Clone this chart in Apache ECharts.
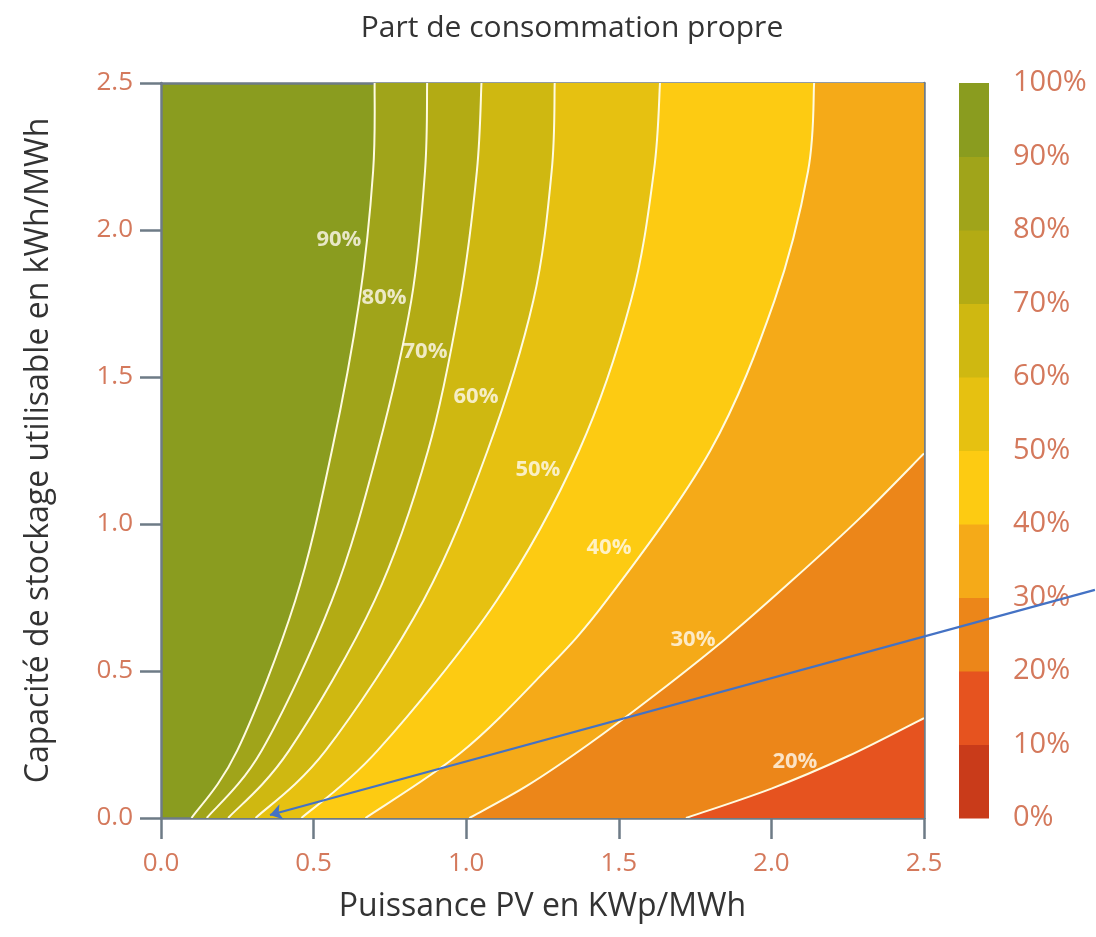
<!DOCTYPE html>
<html>
<head>
<meta charset="utf-8">
<script src="https://cdn.jsdelivr.net/npm/echarts@6/dist/echarts.min.js"></script>
<style>
html, body { margin: 0; background: #fff; }
#chart { width: 1096px; height: 937px; }
</style>
</head>
<body>
<div id="chart"></div>
<script>
// tick labels of both axes
var axisTicks = ['0.0', '0.5', '1.0', '1.5', '2.0', '2.5'];

// contour lines: [PV, stockage]
var levels = ['90%', '80%', '70%', '60%', '50%', '40%', '30%', '20%'];
var line90 = [[0.10, 0], [0.25, 0.23], [0.44, 0.74], [0.56, 1.25], [0.65, 1.76], [0.695, 2.2], [0.70, 2.5]];
var line80 = [[0.15, 0], [0.33, 0.23], [0.56, 0.74], [0.71, 1.25], [0.82, 1.76], [0.865, 2.2], [0.872, 2.5]];
var line70 = [[0.22, 0], [0.42, 0.23], [0.70, 0.74], [0.875, 1.25], [0.98, 1.76], [1.035, 2.2], [1.05, 2.5]];
var line60 = [[0.31, 0], [0.54, 0.23], [0.86, 0.74], [1.07, 1.25], [1.22, 1.76], [1.28, 2.2], [1.29, 2.5]];
var line50 = [[0.46, 0], [0.71, 0.23], [1.10, 0.74], [1.37, 1.25], [1.54, 1.76], [1.615, 2.2], [1.635, 2.5]];
var line40 = [[0.67, 0], [0.98, 0.22], [1.24, 0.48], [1.46, 0.74], [1.80, 1.25], [2.01, 1.76], [2.12, 2.2], [2.14, 2.5]];
var line30 = [[1.01, 0], [1.20, 0.11], [1.40, 0.25], [1.62, 0.42], [1.85, 0.61], [2.07, 0.81], [2.29, 1.02], [2.5, 1.24]];
var line20 = [[1.72, 0], [2.0, 0.1], [2.25, 0.21], [2.5, 0.34]];
var contours = [line90, line80, line70, line60, line50, line40, line30, line20];

// where the level labels sit
var labelX = [0.583, 0.731, 0.865, 1.032, 1.235, 1.468, 1.743, 2.077];
var labelY = [1.966, 1.769, 1.585, 1.432, 1.184, 0.918, 0.605, 0.190];

// colour bar steps (%)
var barSteps = [0, 10, 20, 30, 40, 50, 60, 70, 80, 90, 100];

// blue arrow annotation
var arrowFrom = [3.06, 0.776];
var arrowTo = [0.357, 0.01];

var bandColors = ['#c93b1a', '#e6531f', '#ec8619', '#f5aa18', '#fdcb12',
                  '#e6c111', '#cfb811', '#b3ab14', '#a0a41a', '#8a9c1f'];
var tickColor = '#d4795c';
var axisColor = '#6e7b86';
var font = 'Open Sans';

// smooth path through the points (catmull-rom -> bezier)
function curvePath(pts) {
    var d = 'M' + pts[0][0] + ' ' + pts[0][1];
    for (var i = 0; i < pts.length - 1; i++) {
        var p0 = pts[i - 1] || pts[i], p1 = pts[i], p2 = pts[i + 1], p3 = pts[i + 2] || pts[i + 1];
        var c1x = p1[0] + (p2[0] - p0[0]) / 6, c1y = p1[1] + (p2[1] - p0[1]) / 6;
        var c2x = p2[0] - (p3[0] - p1[0]) / 6, c2y = p2[1] - (p3[1] - p1[1]) / 6;
        d += ' C' + c1x + ' ' + c1y + ' ' + c2x + ' ' + c2y + ' ' + p2[0] + ' ' + p2[1];
    }
    return d;
}

var idx = contours.map(function (c, i) { return [i]; });

var myChart = echarts.init(document.getElementById('chart'));
var option = {
    animation: false,
    title: {
        text: 'Part de consommation propre',
        left: 567,
        top: 8,
        textAlign: 'center',
        textStyle: { fontFamily: font, fontSize: 30, fontWeight: 'normal', color: '#333' }
    },
    grid: [{
        left: 161, top: 83, width: 763, height: 735,
        show: true, backgroundColor: bandColors[9], borderWidth: 0
    }, {
        left: 959, top: 83, width: 30, height: 735
    }],
    xAxis: [{
        gridIndex: 0,
        type: 'value', min: 0, max: 2.5, interval: 0.5,
        name: 'Puissance PV en KWp/MWh',
        nameLocation: 'middle', nameGap: 73,
        nameTextStyle: { fontFamily: font, fontSize: 32, color: '#333' },
        axisLine: { onZero: false, lineStyle: { color: axisColor, width: 2.5 } },
        axisTick: { length: 21, lineStyle: { color: axisColor, width: 2.5 } },
        axisLabel: {
            margin: 33, color: tickColor, fontFamily: font, fontSize: 26,
            formatter: function (v) { return axisTicks[Math.round(v / 0.5)]; }
        },
        splitLine: { show: false }
    }, {
        gridIndex: 0, position: 'top',
        type: 'value', min: 0, max: 2.5,
        axisLine: { onZero: false, lineStyle: { color: axisColor, width: 2.5 } },
        axisTick: { show: false }, axisLabel: { show: false }, splitLine: { show: false }
    }, {
        gridIndex: 1, type: 'category', data: [''], show: false
    }],
    yAxis: [{
        gridIndex: 0,
        type: 'value', min: 0, max: 2.5, interval: 0.5,
        name: 'Capacité de stockage utilisable en kWh/MWh',
        nameLocation: 'middle', nameGap: 106,
        nameTextStyle: { fontFamily: font, fontSize: 32, color: '#333' },
        axisLine: { onZero: false, lineStyle: { color: axisColor, width: 2.5 } },
        axisTick: { length: 21, lineStyle: { color: axisColor, width: 2.5 } },
        axisLabel: {
            margin: 28, color: tickColor, fontFamily: font, fontSize: 26,
            formatter: function (v) { return axisTicks[Math.round(v / 0.5)]; }
        },
        splitLine: { show: false }
    }, {
        gridIndex: 0, position: 'right',
        type: 'value', min: 0, max: 2.5,
        axisLine: { onZero: false, lineStyle: { color: axisColor, width: 2.5 } },
        axisTick: { show: false }, axisLabel: { show: false }, splitLine: { show: false }
    }, {
        gridIndex: 1, type: 'value', min: 0, max: 100, interval: 10, position: 'right',
        axisLine: { show: false }, axisTick: { show: false }, splitLine: { show: false },
        axisLabel: { margin: 24, color: tickColor, fontFamily: font, fontSize: 29, formatter: '{value}%' }
    }],
    series: [{
        // filled bands: each contour fills everything to its right
        type: 'custom',
        xAxisIndex: 0, yAxisIndex: 0,
        clip: true, z: 1,
        data: idx,
        renderItem: function (params, api) {
            var k = api.value(0);
            var line = contours[k];
            var pts = line.map(function (p) { return api.coord(p); });
            var d = curvePath(pts);
            if (line[line.length - 1][1] >= 2.5) {
                d += ' L' + api.coord([2.5, 2.5]).join(' ');
            }
            d += ' L' + api.coord([2.5, 0]).join(' ') + ' Z';
            return { type: 'path', shape: { pathData: d }, style: { fill: bandColors[8 - k] } };
        }
    }, {
        // white contour lines
        type: 'custom',
        xAxisIndex: 0, yAxisIndex: 0,
        clip: true, z: 2,
        data: idx,
        renderItem: function (params, api) {
            var pts = contours[api.value(0)].map(function (p) { return api.coord(p); });
            return {
                type: 'path', shape: { pathData: curvePath(pts) },
                style: { fill: null, stroke: '#fffbe0', lineWidth: 2 }
            };
        }
    }, {
        // level labels
        type: 'scatter',
        xAxisIndex: 0, yAxisIndex: 0,
        z: 3, symbolSize: 0, silent: true,
        data: levels.map(function (t, i) { return { name: t, value: [labelX[i], labelY[i]] }; }),
        label: {
            show: true, position: 'inside', formatter: '{b}',
            color: '#fffaf0', fontFamily: font, fontWeight: 'bold', fontSize: 22
        }
    }, {
        // colour bar
        type: 'custom',
        xAxisIndex: 2, yAxisIndex: 2,
        z: 1,
        data: barSteps.slice(0, -1).map(function (s, i) { return [0, s, barSteps[i + 1], i]; }),
        renderItem: function (params, api) {
            var lo = api.coord([0, api.value(1)]);
            var hi = api.coord([0, api.value(2)]);
            var w = api.size([1, 0])[0];
            return {
                type: 'rect',
                shape: { x: lo[0] - w / 2, y: hi[1], width: w, height: lo[1] - hi[1] + 0.5 },
                style: { fill: bandColors[api.value(3)] }
            };
        }
    }, {
        // blue arrow
        type: 'lines',
        coordinateSystem: 'cartesian2d',
        xAxisIndex: 0, yAxisIndex: 0,
        clip: false, z: 10,
        symbol: ['none', 'arrow'], symbolSize: 12,
        lineStyle: { color: '#4472c4', width: 2.2, opacity: 1 },
        data: [{ coords: [arrowFrom, arrowTo] }]
    }]
};
myChart.setOption(option);
</script>
</body>
</html>
